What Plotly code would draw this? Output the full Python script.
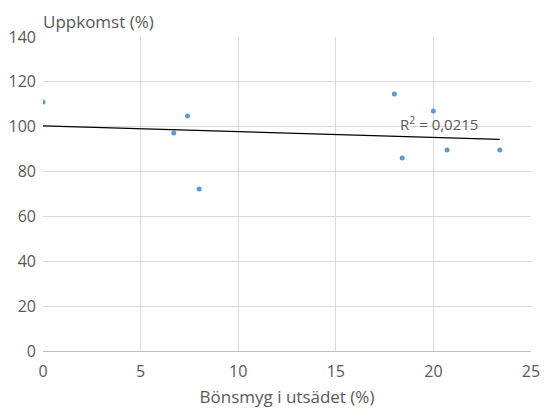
import numpy as np
import plotly.graph_objects as go

x_vals = [0.0, 6.7, 7.4, 8.0, 18.0, 20.0, 18.4, 20.7, 23.4]
y_vals = [111.0, 97.2, 104.8, 72.2, 114.6, 107.0, 86.0, 89.6, 89.6]
r2_label = "R<sup>2</sup> = 0,0215"
x_title = "Bönsmyg i utsädet (%)"
y_title = "Uppkomst (%)"

slope, intercept = np.polyfit(x_vals, y_vals, 1)
tx = [min(x_vals), max(x_vals)]
ty = [intercept + slope * v for v in tx]

font = "Open Sans, Lato, sans-serif"
txt = "#595959"

fig = go.Figure()
fig.add_trace(go.Scatter(x=x_vals, y=y_vals, mode="markers",
                         marker=dict(size=5, color="#5b9bd5"), showlegend=False))
fig.add_trace(go.Scatter(x=tx, y=ty, mode="lines",
                         line=dict(color="black", width=1.2), showlegend=False))
fig.add_annotation(x=20.3, y=95.8, text=r2_label, showarrow=False,
                   font=dict(family=font, size=15, color=txt), xanchor="center", yanchor="bottom")
fig.add_annotation(x=0, y=1, xref="paper", yref="paper", text=y_title, showarrow=False,
                   xanchor="left", yanchor="bottom", yshift=2, xshift=-2,
                   font=dict(family=font, size=17, color=txt))

fig.update_layout(
    width=544, height=408,
    margin=dict(l=43, r=13, t=37, b=57),
    paper_bgcolor="white", plot_bgcolor="white",
    font=dict(family=font, size=15, color=txt),
    xaxis=dict(range=[0, 25], dtick=5, showgrid=True, gridcolor="#d9d9d9", gridwidth=1,
               zeroline=False, showline=True, linecolor="#bfbfbf", ticks="",
               automargin=False, ticklabelstandoff=6,
               title=dict(text=x_title, font=dict(size=17, color=txt), standoff=12),
               tickfont=dict(size=16, color=txt)),
    yaxis=dict(range=[0, 140], dtick=20, showgrid=True, gridcolor="#d9d9d9", gridwidth=1,
               zeroline=False, showline=False, ticks="", automargin=False,
               ticklabelstandoff=6,
               tickfont=dict(size=16, color=txt)),
)
fig.write_html("out.html")
